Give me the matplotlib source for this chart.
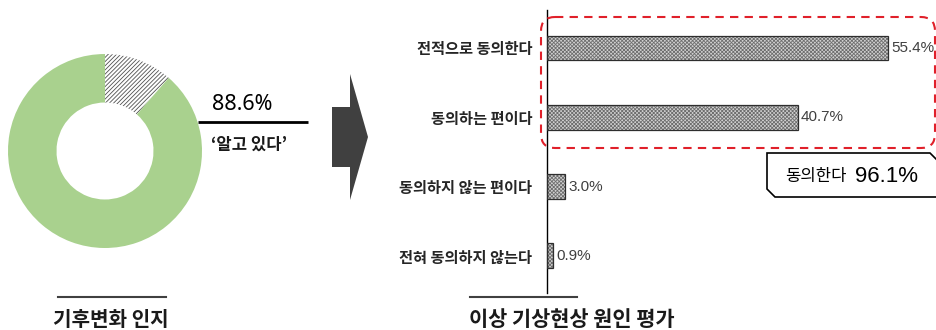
import matplotlib
matplotlib.use("Agg")
import matplotlib.pyplot as plt
from matplotlib.patches import FancyBboxPatch, Polygon

plt.rcParams['font.family'] = ['Noto Sans CJK KR', 'DejaVu Sans']

# Awareness of climate change (donut)
aware_labels = ['모른다', '알고 있다']
aware_values = [11.4, 88.6]

# Evaluation of the cause of abnormal weather (bars)
categories = ['전적으로 동의한다', '동의하는 편이다', '동의하지 않는 편이다', '전혀 동의하지 않는다']
shares = [55.4, 40.7, 3.0, 0.9]
agree_total = 96.1

W, H = 937, 330
fig = plt.figure(figsize=(W / 100, H / 100), dpi=100)


def rect(x0, y0, x1, y1):
    return [x0 / W, 1 - y1 / H, (x1 - x0) / W, (y1 - y0) / H]


# --- donut ---
ax_pie = fig.add_axes(rect(8, 54, 202, 248))
plt.rcParams['hatch.linewidth'] = 0.6
wedges, _ = ax_pie.pie(aware_values, radius=1, startangle=90, counterclock=False,
                       colors=['white', '#a9d18e'],
                       wedgeprops=dict(width=0.5, linewidth=0))
wedges[0].set_hatch('////////')
wedges[0].set_edgecolor('#505050')
wedges[0].set_linewidth(0)
ax_pie.set_xlim(-1, 1)
ax_pie.set_ylim(-1, 1)
ax_pie.set_aspect('auto')
ax_pie.axis('off')

# --- bars ---
xmax = (937 - 547) / 6.155
ax_bar = fig.add_axes(rect(547, 10, 937, 293))
ypos = list(range(len(categories)))
# fine dotted fill, then a dark outline on top
ax_bar.barh(ypos, shares, height=0.36, color='#d2d2d2',
            edgecolor='#6e6e6e', linewidth=0, hatch='xxxxxxxxx', zorder=2)
bars = ax_bar.barh(ypos, shares, height=0.36, color='none',
                   edgecolor='#2e2e2e', linewidth=0.9, zorder=3)
ax_bar.set_xlim(0, xmax)
ax_bar.set_ylim(3.534, -0.548)
ax_bar.set_yticks(ypos)
ax_bar.set_yticklabels(categories, fontsize=11, color='#262626',
                       fontweight='bold')
ax_bar.tick_params(axis='y', length=0, pad=10.5)
ax_bar.set_xticks([])
for s in ['top', 'right', 'bottom']:
    ax_bar.spines[s].set_visible(False)
ax_bar.spines['left'].set_linewidth(1.0)
ax_bar.spines['left'].set_color('black')
for b, v in zip(bars, shares):
    ax_bar.annotate(f'{v:.1f}%', (v, b.get_y() + b.get_height() / 2),
                    xytext=(2.5, 0), textcoords='offset points',
                    va='center', ha='left', fontsize=11, color='#404040',
                    family=['Liberation Sans', 'DejaVu Sans'])

# --- overlay in pixel coordinates ---
ov = fig.add_axes([0, 0, 1, 1], zorder=5)
ov.set_xlim(0, W)
ov.set_ylim(H, 0)
ov.axis('off')

# arrow between the two panels
ov.add_patch(Polygon([(332, 107), (350, 107), (350, 74), (368, 137),
                      (350, 200), (350, 167), (332, 167)],
                     closed=True, fc='#404040', ec='none'))

# donut annotation
ov.plot([198, 308], [122, 122], color='black', lw=2, solid_capstyle='butt')
ov.text(212, 104, f'{aware_values[1]:.1f}%', fontsize=15.5, ha='left', va='center',
        color='black', family=['Noto Sans', 'DejaVu Sans'])
ov.text(211, 145, '‘알고 있다’', fontsize=12, ha='left', va='center',
        color='#1a1a1a', fontweight='bold')

# dashed highlight around the agreeing answers
ov.add_patch(FancyBboxPatch((541, 17), 394, 131,
                            boxstyle='round,pad=0,rounding_size=14',
                            fc='none', ec='#e0202a', lw=1.5,
                            linestyle=(0, (4, 3))))

# callout with the combined share
ov.add_patch(Polygon([(767, 153), (930, 153), (940, 163), (940, 197),
                      (775, 197), (767, 189)],
                     closed=True, fc='white', ec='black', lw=1.2))
ov.text(785, 177, '동의한다', fontsize=12, ha='left', va='center',
        color='black')
ov.text(855, 176, f'{agree_total:.1f}%', fontsize=16, ha='left', va='center',
        color='black', family=['Liberation Sans', 'DejaVu Sans'])

# panel titles
ov.plot([58, 166], [297, 297], color='#404040', lw=1.5)
ov.plot([470, 577], [297, 297], color='#404040', lw=1.5)
ov.text(111, 320, '기후변화 인지', fontsize=14.5, fontweight='bold',
        ha='center', va='center', color='#1a1a1a')
ov.text(572, 320, '이상 기상현상 원인 평가', fontsize=15, fontweight='bold',
        ha='center', va='center', color='#1a1a1a')

fig.savefig('out.png', dpi=100)
